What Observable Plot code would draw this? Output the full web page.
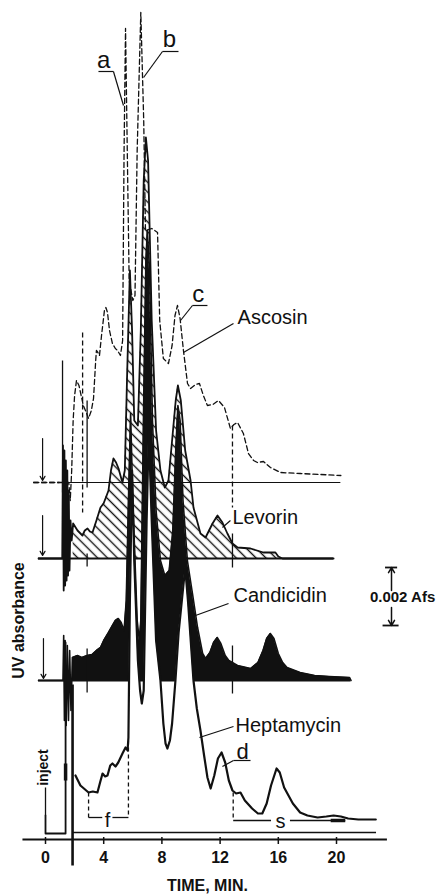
<!DOCTYPE html>
<html><head><meta charset="utf-8">
<script src="https://cdn.jsdelivr.net/npm/d3@7"></script>
<script src="https://cdn.jsdelivr.net/npm/@observablehq/plot@0.6"></script>
<style>body{margin:0;background:#fff}</style>
</head><body>
<svg width="0" height="0" style="position:absolute"><defs>
<pattern id="hatch" patternUnits="userSpaceOnUse" width="7" height="7" patternTransform="rotate(-45)">
<line x1="3.5" y1="0" x2="3.5" y2="7" stroke="#111" stroke-width="1.4"/></pattern></defs></svg>
<div id="chart"></div>
<script>
// ---- data (time in minutes, signal in relative absorbance units above each trace's baseline) ----
const traceNames = ["Ascosin", "Levorin", "Candicidin", "Heptamycin"];
const baselines = [357, 281, 159, 7];           // stacking offset of each trace
const xTicks = [0, 4, 8, 12, 16, 20];
const scaleBarUnits = 58;                        // 0.002 Afs
const scaleBarLabel = "0.002 Afs";

const ascT = [-0.8,1.0,1.6,1.7,1.8,1.9,2.0,2.13,2.3,2.45,2.6,2.8,2.96,3.15,3.3,3.45,3.5,3.6,3.71,3.85,4.05,4.15,4.26,4.4,4.6,4.8,4.95,5.15,5.3,5.4,5.5,5.62,5.75,6.0,6.15,6.3,6.55,6.75,6.87,7.3,7.7,7.85,8.1,8.45,8.7,8.9,9.07,9.25,9.48,9.76,9.97,10.3,10.58,10.85,11.13,11.5,11.89,12.3,12.71,12.95,13.2,13.6,13.95,14.3,14.57,14.98,15.46,16.15,17.5,20.3];
const ascV = [0,0,0,-18,12,62,87,102,97,87,77,70,64,72,84,122,132,130,127,147,172,175,170,152,139,134,132,127,142,332,454,332,202,182,187,332,470,362,252,254,250,162,124,119,137,167,177,164,132,99,94,98,99,87,77,78,82,75,54,58,60,49,29,22,20,21,15,10,9,7];

const levT = [-0.48,1.15,1.2,1.25,1.3,1.35,1.4,1.45,1.5,1.55,1.6,1.65,1.72,1.8,1.9,2.2,2.54,2.7,2.89,3.05,3.23,3.5,3.78,3.99,4.15,4.33,4.5,4.67,4.85,5.02,5.15,5.29,5.45,5.6,5.8,5.95,6.1,6.35,6.55,6.75,6.9,7.05,7.3,7.6,7.9,8.2,8.45,8.7,8.95,9.1,9.3,9.6,9.97,10.17,10.65,11.0,11.48,11.82,12.16,12.5,12.85,13.2,14.09,14.98,15.8,16.0,16.29,19.8];
const levV = [0,0,113,-32,108,-27,98,-22,88,-17,68,-12,38,18,35,28,23,28,30,27,26,38,51,55,61,68,88,100,96,90,83,76,88,178,288,228,138,133,228,378,421,398,238,128,88,71,78,118,158,173,158,108,78,51,25,21,35,43,36,25,15,11,10,6,6,2,0,0];

const canT = [-0.48,1.2,1.25,1.3,1.35,1.42,1.5,1.58,1.66,1.75,1.85,2.2,2.5,2.86,3.2,3.5,3.78,4.0,4.33,4.6,4.8,5.0,5.2,5.4,5.55,5.7,5.85,6.0,6.15,6.3,6.45,6.55,6.75,6.9,7.0,7.15,7.35,7.6,7.9,8.2,8.5,8.75,8.95,9.1,9.25,9.45,9.75,10.1,10.45,10.8,11.0,11.3,11.55,11.8,12.05,12.35,12.6,13.2,14.1,14.6,14.95,15.2,15.45,15.7,16.0,16.3,16.6,17.5,18.5,19.5,20.9,21.0];
const canV = [0,0,45,-40,40,-45,35,-40,30,-30,23,25,23,25,26,30,33,40,48,55,60,62,58,50,80,180,267,180,120,60,40,60,280,420,450,410,260,170,120,105,110,150,230,275,260,180,120,87,53,27,22,28,38,43,37,25,20,15,12,18,30,42,47,42,27,18,13,8,5,4,3,0];

const hepT = [2.06,2.4,2.96,3.25,3.57,3.75,3.92,4.1,4.26,4.45,4.6,4.81,5.0,5.29,5.5,5.64,5.7,5.8,5.95,6.1,6.35,6.5,6.62,6.75,6.95,7.1,7.3,7.6,7.9,8.1,8.25,8.38,8.55,8.7,8.93,9.15,9.6,9.8,10.17,10.4,10.65,10.9,11.13,11.35,11.6,11.85,12.1,12.35,12.6,12.85,13.1,13.4,13.7,14.2,14.6,14.9,15.2,15.5,15.88,16.1,16.4,17.0,17.5,18.0,18.7,19.3,19.8,20.3,20.8,21.5,22.7];
const hepV = [57,47,40,41,40,50,59,56,57,67,69,66,70,79,85,82,95,232,362,272,172,142,129,142,312,402,312,192,152,109,89,84,92,109,152,200,265,230,152,124,102,77,55,44,57,74,80,70,52,42,39,40,32,24,19,19,29,47,64,60,45,29,20,17,15,16,17,16,14,13,13];
const hepInjT = [0, 0, 1.38, 1.38];
const hepInjV = [17, -1, -1, 190];

// ---- build tables ----
const rows = (T, V, b) => T.map((t, i) => ({t, y: b + V[i]}));
const [bA, bL, bC, bH] = baselines;
const asc = rows(ascT, ascV, bA);
const lev = rows(levT, levV, bL);
const can = rows(canT, canV, bC);
const hep = rows(hepT, hepV, bH);
const hepInj = rows(hepInjT, hepInjV, bH);

const F = "'Liberation Sans', Arial, sans-serif";
const K = "#111";
const seg = (t1, t2, y1, y2) => ({t1, t2, y1, y2});
const lbl = (t, y, s) => ({t, y, s});
const L = {x1: "t1", x2: "t2", y1: "y1", y2: "y2", stroke: K};

const chart = Plot.plot({
  width: 438, height: 895,
  marginTop: 0, marginRight: 0, marginBottom: 0, marginLeft: 0,
  x: {domain: [-3.093, 27.01], axis: null},
  y: {domain: [-56, 839], axis: null},
  style: {background: "white", fontFamily: F},
  marks: [
    // Ascosin baseline + start arrow
    Plot.ruleY([bA], {x1: -0.82, x2: 1.0, stroke: K, strokeWidth: 1.3, strokeDasharray: "5,3"}),
    Plot.ruleY([bA], {x1: 1.0, x2: 20.3, stroke: K, strokeWidth: 1}),
    Plot.arrow([0], {x1: -0.2, x2: -0.2, y1: bA + 44, y2: bA + 2, headLength: 6, strokeWidth: 1.2, stroke: K}),
    // Levorin hatched area
    Plot.areaY(lev.filter(d => d.t >= 1.9), {x: "t", y1: bL, y2: "y", fill: "url(#hatch)"}),
    Plot.ruleY([bL], {x1: -0.48, x2: 19.8, stroke: K, strokeWidth: 2}),
    Plot.arrow([0], {x1: -0.2, x2: -0.2, y1: bL + 43, y2: bL + 3, headLength: 6, strokeWidth: 1.2, stroke: K}),
    // Ascosin dashed trace and its markers
    Plot.line(asc, {x: "t", y: "y", stroke: K, strokeWidth: 1.3, strokeDasharray: "5,3"}),
    Plot.link([seg(2.55, 2.55, bA + 150, bA - 30), seg(12.85, 12.85, bA + 57, bA - 25)],
      {...L, strokeWidth: 1.3, strokeDasharray: "5,3"}),
    Plot.link([seg(2.86, 2.86, bA + 82, bA - 5), seg(1.17, 1.17, bA + 122, bA - 10)], {...L, strokeWidth: 1.3}),
    // Levorin outline
    Plot.line(lev, {x: "t", y: "y", stroke: K, strokeWidth: 1.8}),
    Plot.link([seg(2.86, 2.86, bL + 5, bL - 8), seg(12.85, 12.85, bL + 25, bL - 9)], {...L, strokeWidth: 1.3}),
    // Candicidin
    Plot.ruleY([bC], {x1: -0.48, x2: 21.0, stroke: K, strokeWidth: 2}),
    Plot.arrow([0], {x1: -0.14, x2: -0.14, y1: bC + 42, y2: bC + 2, headLength: 6, strokeWidth: 1.2, stroke: K}),
    Plot.areaY(can.filter(d => d.t >= 1.85), {x: "t", y1: bC, y2: "y", fill: K}),
    Plot.line(can, {x: "t", y: "y", stroke: K, strokeWidth: 1.6}),
    Plot.link([seg(2.86, 2.86, bC + 32, bC - 12), seg(12.85, 12.85, bC + 35, bC - 13)], {...L, strokeWidth: 1.3}),
    // Heptamycin
    Plot.areaY(hep, {x: "t", y1: bH, y2: "y", fill: "white"}),
    Plot.line(hep, {x: "t", y: "y", stroke: K, strokeWidth: 2.2}),
    Plot.line(hepInj, {x: "t", y: "y", stroke: K, strokeWidth: 1.8}),
    Plot.ruleY([bH], {x1: 1.92, x2: 22.75, stroke: K, strokeWidth: 1.3}),
    Plot.link([seg(1.38, 1.38, 59, 76)], {...L, strokeWidth: 3.5}),
    Plot.link([seg(1.86, 1.86, 155, -26)], {...L, strokeWidth: 2.6}),
    Plot.link([seg(0, 0, 52, 24)], {...L, strokeWidth: 1.3}),
    // f and s brackets
    Plot.link([seg(2.96, 2.96, 47, 22), seg(5.7, 5.7, 99, 22), seg(12.9, 12.9, 47, 19)],
      {...L, strokeWidth: 1.3, strokeDasharray: "4,3"}),
    Plot.link([seg(2.96, 3.9, 22, 22), seg(4.6, 5.7, 22, 22), seg(12.9, 15.5, 19, 19), seg(16.8, 20.6, 19, 19)],
      {...L, strokeWidth: 1.3}),
    Plot.link([seg(19.6, 20.6, 19, 19)], {...L, strokeWidth: 3.5}),
    // peak letter labels: underline + leader
    Plot.link([
      seg(3.64, 4.67, 768, 768), seg(4.67, 5.36, 768, 734),
      seg(8.04, 9.14, 788, 788), seg(8.04, 6.74, 788, 762),
      seg(10.1, 11.13, 534, 534), seg(10.1, 9.28, 534, 519),
      seg(12.92, 14.09, 79, 79), seg(12.92, 12.16, 79, 73)
    ], {...L, strokeWidth: 1.2}),
    Plot.text([lbl(3.99, 779, "a"), lbl(8.52, 800, "b"), lbl(10.5, 545, "c")],
      {x: "t", y: "y", text: "s", fontSize: 24, fontFamily: F, fill: K}),
    Plot.text([lbl(13.54, 88, "d")], {x: "t", y: "y", text: "s", fontSize: 22, fontFamily: F, fill: K}),
    Plot.text([lbl(4.26, 19, "f"), lbl(16.15, 18, "s")],
      {x: "t", y: "y", text: "s", fontSize: 20, fontFamily: F, fill: K}),
    // trace name labels + leaders
    Plot.link([
      seg(12.92, 9.48, 516, 487), seg(12.71, 12.16, 319, 312),
      seg(12.58, 10.31, 236, 224), seg(12.92, 10.58, 113, 102)
    ], {...L, strokeWidth: 1.2}),
    Plot.text([lbl(13.2, 522, traceNames[0]), lbl(12.85, 322, traceNames[1]), lbl(12.92, 244, traceNames[2]), lbl(13.06, 114, traceNames[3])],
      {x: "t", y: "y", text: "s", textAnchor: "start", fontSize: 20, fontFamily: F, fill: K}),
    // scale bar
    Plot.ruleY([214 + scaleBarUnits], {x1: 23.37, x2: 24.2, stroke: K, strokeWidth: 1.8}),
    Plot.ruleY([214], {x1: 23.2, x2: 24.3, stroke: K, strokeWidth: 1.8}),
    Plot.arrow([0], {x1: 23.78, x2: 23.78, y1: 249, y2: 214 + scaleBarUnits, headLength: 6, strokeWidth: 1.5, stroke: K}),
    Plot.arrow([0], {x1: 23.78, x2: 23.78, y1: 232, y2: 214, headLength: 6, strokeWidth: 1.5, stroke: K}),
    Plot.text([scaleBarLabel], {x: 24.54, y: 242, text: d => d, fontSize: 15, fontWeight: "bold", fontFamily: F, fill: K}),
    // time axis
    Plot.ruleY([0], {x1: -1.55, x2: 23.5, stroke: K, strokeWidth: 1.8}),
    Plot.ruleX(xTicks, {y1: 2, y2: -5, stroke: K, strokeWidth: 1.5}),
    Plot.text(xTicks, {x: d => d, y: -18, text: d => String(d), fontSize: 16, fontWeight: "bold", fontFamily: F, fill: K}),
    Plot.text(["TIME, MIN."], {x: 11.13, y: -46, text: d => d, fontSize: 16, fontWeight: "bold", fontFamily: F, fill: K}),
    Plot.text(["UV absorbance"], {x: -1.86, y: 219, text: d => d, rotate: -90, fontSize: 16, fontWeight: "bold", fontFamily: F, fill: K}),
    Plot.text(["inject"], {x: -0.17, y: 72, text: d => d, rotate: -90, fontSize: 14, fontWeight: "bold", fontFamily: F, fill: K})
  ]
});
document.getElementById("chart").appendChild(chart);
</script>
</body></html>
